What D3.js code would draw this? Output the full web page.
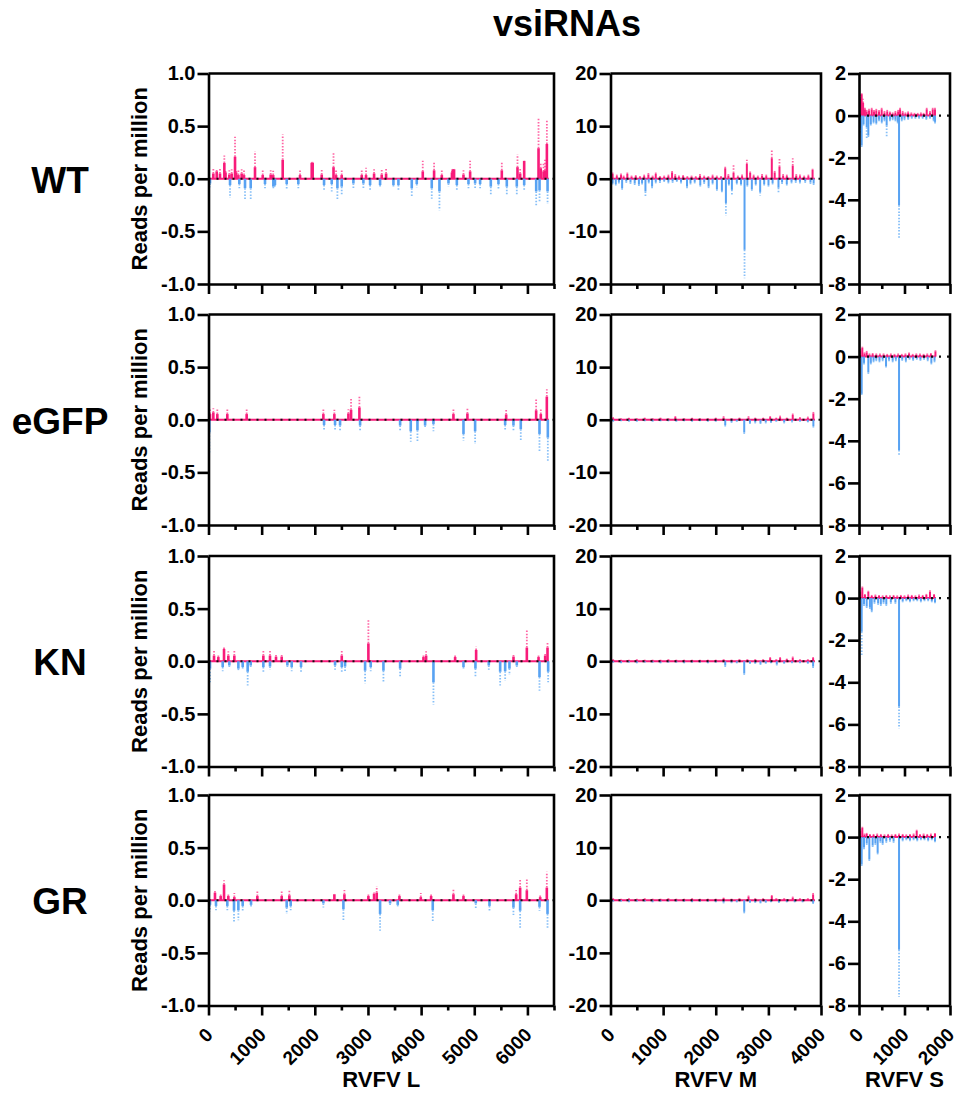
<!DOCTYPE html>
<html><head><meta charset="utf-8">
<script src="https://cdn.jsdelivr.net/npm/d3@7"></script>
<style>
body{margin:0;background:#fff}
svg{display:block}
text{font-family:"Liberation Sans",Arial,Helvetica,sans-serif;font-weight:bold;fill:#000}
</style>
</head><body>
<svg id="chart" width="957" height="1100"></svg>
<script>
// ---------------- DATA ----------------
const title = "vsiRNAs";
const rowNames = ["WT", "eGFP", "KN", "GR"];
const segNames = ["RVFV L", "RVFV M", "RVFV S"];
const segLength = [6404, 3885, 1690];
const xMax = [6500, 4000, 2000];
const xMajor = [[0,1000,2000,3000,4000,5000,6000],[0,1000,2000,3000,4000],[0,1000,2000]];
const xMinor = [[500,1500,2500,3500,4500,5500,6500],[500,1500,2500,3500],[500,1500]];
const yDomain = [[-1,1],[-20,20],[-8,2]];
const yTicks = [[1,0.5,0,-0.5,-1],[20,10,0,-10,-20],[2,0,-2,-4,-6,-8]];
const yTitle = "Reads per million";

// [position (nt), mean, SD]
const L_WT_pos = [[91,0.05,0.05],[154,0.07,0.03],[216,0.05,0.05],[298,0.15,0.07],[320,0.06,0.03],[392,0.04,0.04],[436,0.05,0.04],[499,0.21,0.19],[520,0.06,0.03],[562,0.035,0.05],[624,0.05,0.04],[668,0.035,0.05],[875,0.11,0.15],[1020,0.035,0.05],[1170,0.04,0.04],[1217,0.035,0.04],[1396,0.18,0.24],[1722,0.035,0.05],[1942,0.15,0.01],[1960,0.15,0.01],[2130,0.04,0.06],[2352,0.11,0.14],[2400,0.035,0.05],[2506,0.035,0.05],[2883,0.035,0.05],[2964,0.035,0.07],[3115,0.05,0.04],[3259,0.04,0.05],[3341,0.05,0.05],[4031,0.07,0.10],[4244,0.08,0.08],[4389,0.035,0.05],[4580,0.06,0.02],[4596,0.09,0.0],[4620,0.09,0.0],[4797,0.04,0.04],[4922,0.07,0.10],[5518,0.08,0.08],[5813,0.11,0.12],[5863,0.05,0.06],[5939,0.17,0.0],[6209,0.29,0.28],[6250,0.1,0.06],[6303,0.07,0.09],[6330,0.08,0.1],[6366,0.33,0.23]];
const L_WT_neg = [[28,-0.045,0.035],[405,-0.06,0.12],[580,-0.05,0.04],[687,-0.09,0.11],[794,-0.09,0.11],[1063,-0.05,0.04],[1220,-0.075,0.03],[1250,-0.06,0.03],[1471,-0.05,0.06],[1690,-0.05,0.04],[2174,-0.06,0.05],[2318,-0.05,0.07],[2425,-0.09,0.11],[2506,-0.075,0.08],[2726,-0.045,0.05],[2914,-0.045,0.05],[3040,-0.06,0.05],[3228,-0.06,0.03],[3479,-0.06,0.03],[3573,-0.06,0.05],[3824,-0.09,0.08],[3918,-0.05,0.03],[4200,-0.09,0.10],[4345,-0.12,0.18],[4515,-0.045,0.03],[4672,-0.06,0.05],[4891,-0.05,0.04],[5016,-0.045,0.05],[5110,-0.05,0.04],[5311,-0.075,0.09],[5455,-0.05,0.06],[5612,-0.075,0.08],[5800,-0.075,0.09],[5939,-0.06,0.05],[6165,-0.12,0.14],[6228,-0.11,0.11],[6379,-0.12,0.12]];

const L_eGFP_pos = [[28,0.054,0.053],[91,0.07,0.04],[166,0.054,0.053],[354,0.054,0.053],[718,0.054,0.05],[2161,0.054,0.05],[2368,0.054,0.04],[2632,0.06,0.04],[2682,0.095,0.115],[2839,0.117,0.11],[4608,0.054,0.053],[4871,0.06,0.047],[5600,0.05,0.057],[6164,0.09,0.11],[6252,0.054,0.05],[6365,0.22,0.07]];
const L_eGFP_neg = [[16,-0.12,0.19],[2174,-0.05,0.05],[2381,-0.05,0.05],[2475,-0.055,0.045],[2852,-0.055,0.045],[3605,-0.055,0.045],[3805,-0.11,0.10],[3931,-0.10,0.11],[4075,-0.055,0.03],[4232,-0.04,0.07],[4797,-0.135,0.065],[5016,-0.11,0.12],[5581,-0.05,0.05],[5737,-0.055,0.045],[5875,-0.09,0.11],[6227,-0.135,0.175],[6384,-0.17,0.23]];

const L_KN_pos = [[104,0.054,0.047],[185,0.04,0.03],[292,0.117,0.03],[373,0.054,0.04],[486,0.054,0.047],[1032,0.054,0.047],[1157,0.054,0.047],[1270,0.044,0.03],[1377,0.044,0.03],[2507,0.054,0.047],[3008,0.17,0.23],[4044,0.04,0.03],[4094,0.054,0.04],[4640,0.04,0.03],[5035,0.107,0.03],[5738,0.044,0.03],[5989,0.13,0.175],[6209,0.04,0.025],[6334,0.054,0.03],[6378,0.13,0.06]];
const L_KN_neg = [[28,-0.07,0.13],[267,-0.055,0.04],[392,-0.04,0.03],[562,-0.07,0.02],[643,-0.055,0.025],[737,-0.10,0.13],[794,-0.04,0.02],[1032,-0.055,0.045],[1157,-0.05,0.03],[1484,-0.04,0.03],[1565,-0.055,0.04],[1741,-0.055,0.055],[2381,-0.04,0.04],[2507,-0.055,0.045],[2569,-0.05,0.045],[2946,-0.09,0.12],[3052,-0.055,0.04],[3291,-0.09,0.11],[3605,-0.07,0.08],[4232,-0.2,0.21],[4797,-0.055,0.025],[5022,-0.07,0.08],[5273,-0.04,0.04],[5487,-0.10,0.13],[5581,-0.095,0.09],[5662,-0.07,0.06],[5800,-0.04,0.03],[6227,-0.15,0.13],[6390,-0.10,0.10]];

const L_GR_pos = [[122,0.073,0.022],[229,0.04,0.022],[292,0.15,0.04],[373,0.04,0.022],[486,0.03,0.04],[919,0.04,0.06],[1377,0.04,0.05],[1521,0.047,0.047],[2368,0.057,0.0],[2557,0.057,0.04],[3008,0.04,0.03],[3115,0.063,0.01],[3165,0.073,0.063],[3592,0.04,0.03],[3994,0.03,0.04],[4188,0.04,0.03],[4608,0.057,0.047],[4797,0.04,0.022],[5788,0.057,0.04],[5863,0.12,0.08],[5989,0.095,0.105],[6240,0.03,0.03],[6365,0.12,0.15]];
const L_GR_neg = [[28,-0.044,0.06],[141,-0.054,0.04],[354,-0.054,0.04],[480,-0.10,0.11],[562,-0.095,0.095],[643,-0.054,0.05],[800,-0.044,0.03],[1471,-0.07,0.06],[1546,-0.054,0.04],[2161,-0.03,0.04],[2538,-0.085,0.105],[3228,-0.13,0.16],[3416,-0.03,0.03],[3560,-0.044,0.02],[4219,-0.095,0.11],[5028,-0.03,0.045],[5286,-0.054,0.046],[5737,-0.07,0.07],[5863,-0.1,0.175],[6227,-0.063,0.037],[6378,-0.13,0.145]];

const M_WT_pos = [[40,0.9,0.3],[120,0.5,0.3],[200,0.7,0.3],[250,0.4,0.2],[320,0.9,0.3],[400,0.4,0.2],[480,0.5,0.2],[560,0.3,0.2],[640,0.5,0.3],[720,0.8,0.3],[800,0.4,0.2],[860,0.9,0.3],[940,0.3,0.2],[1020,0.4,0.2],[1100,0.5,0.3],[1170,1.2,0.4],[1230,0.6,0.3],[1300,0.4,0.2],[1380,0.5,0.2],[1460,0.3,0.2],[1540,0.4,0.2],[1620,0.3,0.2],[1700,0.6,0.3],[1780,0.4,0.2],[1860,0.3,0.2],[1940,0.5,0.3],[2020,0.4,0.2],[2100,0.3,0.2],[2180,2.0,0.3],[2240,0.6,0.3],[2338,1.1,1.7],[2420,0.4,0.2],[2500,0.5,0.3],[2591,2.8,0.8],[2654,1.1,0.4],[2720,0.5,0.3],[2800,0.4,0.2],[2880,0.6,0.3],[2960,0.5,0.3],[3065,3.9,1.7],[3120,1.2,0.5],[3211,2.3,1.6],[3280,0.6,0.3],[3350,0.5,0.3],[3463,2.5,1.4],[3530,0.6,0.3],[3600,0.5,0.3],[3680,0.4,0.2],[3760,0.5,0.3],[3840,1.7,0.2]];
const M_WT_neg = [[40,-0.8,0.4],[100,-1.0,0.5],[160,-0.6,0.3],[221,-1.8,0.4],[300,-0.5,0.3],[380,-0.7,0.3],[460,-0.9,0.4],[540,-1.1,0.5],[600,-0.8,0.4],[664,-2.4,0.95],[727,-0.6,0.3],[790,-1.5,0.5],[860,-0.6,0.3],[940,-0.5,0.3],[1020,-0.4,0.2],[1100,-0.6,0.3],[1180,-0.5,0.3],[1260,-0.4,0.2],[1340,-0.6,0.3],[1454,-1.5,0.5],[1520,-0.8,0.4],[1600,-0.6,0.3],[1706,-1.2,0.4],[1780,-0.7,0.3],[1864,-1.5,0.5],[1940,-0.8,0.4],[2022,-2.0,0.5],[2117,-2.3,0.6],[2193,-4.6,2.4],[2250,-1.0,0.5],[2307,-2.1,0.9],[2400,-0.8,0.4],[2480,-1.0,0.4],[2547,-13.5,5.4],[2600,-1.2,0.5],[2686,-2.0,0.6],[2760,-1.0,0.4],[2844,-2.5,0.7],[2920,-1.0,0.4],[3002,-1.2,0.5],[3080,-0.8,0.4],[3192,-1.7,1.0],[3260,-0.7,0.3],[3350,-1.0,0.4],[3440,-0.6,0.3],[3520,-0.5,0.3],[3600,-0.6,0.3],[3700,-0.5,0.3],[3800,-0.7,0.3],[3860,-0.9,0.3]];

const M_eGFP_pos = [[50,0.3,0.2],[200,0.2,0.1],[350,0.3,0.1],[500,0.2,0.1],[650,0.3,0.1],[800,0.2,0.1],[950,0.3,0.1],[1100,0.2,0.1],[1232,0.5,0.2],[1400,0.2,0.1],[1550,0.3,0.1],[1700,0.2,0.1],[1850,0.2,0.1],[2000,0.3,0.1],[2149,0.4,0.3],[2300,0.2,0.1],[2450,0.3,0.1],[2623,0.4,0.3],[2750,0.3,0.1],[2900,0.3,0.1],[3034,0.5,0.2],[3150,0.3,0.1],[3223,0.5,0.3],[3350,0.3,0.1],[3463,0.9,0.3],[3600,0.3,0.2],[3750,0.4,0.2],[3855,1.2,0.3]];
const M_eGFP_neg = [[50,-0.3,0.1],[200,-0.2,0.1],[350,-0.3,0.1],[500,-0.3,0.1],[650,-0.2,0.1],[800,-0.3,0.1],[950,-0.2,0.1],[1100,-0.2,0.1],[1250,-0.3,0.1],[1400,-0.2,0.1],[1550,-0.3,0.1],[1700,-0.2,0.1],[1850,-0.3,0.1],[2000,-0.3,0.1],[2180,-1.0,0.3],[2300,-0.4,0.2],[2400,-0.3,0.1],[2541,-2.4,0.3],[2650,-0.6,0.2],[2750,-0.5,0.2],[2850,-0.6,0.2],[2950,-0.5,0.2],[3050,-0.4,0.2],[3150,-0.3,0.1],[3300,-0.5,0.2],[3450,-0.3,0.2],[3600,-0.3,0.1],[3750,-0.4,0.1],[3855,-1.2,0.4]];

const M_KN_pos = [[50,0.3,0.1],[200,0.2,0.1],[350,0.2,0.1],[500,0.3,0.1],[650,0.2,0.1],[800,0.2,0.1],[950,0.2,0.1],[1100,0.3,0.1],[1250,0.2,0.1],[1400,0.2,0.1],[1550,0.2,0.1],[1700,0.2,0.1],[1850,0.2,0.1],[2000,0.2,0.1],[2150,0.3,0.1],[2300,0.2,0.1],[2450,0.3,0.1],[2600,0.3,0.1],[2750,0.3,0.1],[2900,0.3,0.1],[3034,0.6,0.2],[3150,0.3,0.1],[3223,0.6,0.2],[3350,0.4,0.1],[3463,0.7,0.2],[3600,0.3,0.1],[3750,0.3,0.1],[3850,0.6,0.2]];
const M_KN_neg = [[50,-0.2,0.1],[200,-0.3,0.1],[350,-0.2,0.1],[500,-0.3,0.1],[650,-0.2,0.1],[800,-0.2,0.1],[950,-0.3,0.1],[1100,-0.2,0.1],[1250,-0.2,0.1],[1400,-0.3,0.1],[1550,-0.2,0.1],[1700,-0.2,0.1],[1850,-0.3,0.1],[2000,-0.2,0.1],[2180,-0.8,0.3],[2300,-0.3,0.1],[2400,-0.3,0.1],[2541,-2.3,0.3],[2650,-0.4,0.1],[2750,-0.4,0.1],[2850,-0.5,0.2],[2950,-0.4,0.1],[3050,-0.3,0.1],[3160,-0.6,0.2],[3300,-0.4,0.1],[3450,-0.3,0.1],[3600,-0.3,0.1],[3750,-0.4,0.1],[3850,-1.0,0.3]];

const M_GR_pos = [[50,0.3,0.1],[200,0.2,0.1],[350,0.3,0.1],[500,0.2,0.1],[650,0.3,0.1],[800,0.2,0.1],[950,0.2,0.1],[1100,0.3,0.1],[1250,0.2,0.1],[1400,0.2,0.1],[1550,0.3,0.1],[1700,0.2,0.1],[1850,0.2,0.1],[2000,0.2,0.1],[2149,0.4,0.1],[2300,0.2,0.1],[2450,0.3,0.1],[2623,0.7,0.2],[2750,0.3,0.1],[2900,0.3,0.1],[3065,0.8,0.2],[3150,0.3,0.1],[3300,0.3,0.1],[3463,0.5,0.2],[3600,0.3,0.1],[3750,0.3,0.1],[3850,1.1,0.3]];
const M_GR_neg = [[50,-0.2,0.1],[200,-0.2,0.1],[350,-0.3,0.1],[500,-0.2,0.1],[650,-0.2,0.1],[800,-0.3,0.1],[950,-0.2,0.1],[1100,-0.2,0.1],[1250,-0.2,0.1],[1400,-0.2,0.1],[1550,-0.3,0.1],[1700,-0.2,0.1],[1850,-0.2,0.1],[2000,-0.3,0.1],[2149,-0.4,0.2],[2300,-0.3,0.1],[2400,-0.3,0.1],[2541,-2.2,0.3],[2650,-0.4,0.1],[2750,-0.4,0.1],[2850,-0.5,0.1],[2950,-0.4,0.1],[3050,-0.3,0.1],[3200,-0.4,0.1],[3350,-0.3,0.1],[3500,-0.3,0.1],[3650,-0.3,0.1],[3850,-0.5,0.2]];

const S_WT_pos = [[25,0.8,0.2],[59,1.02,0.04],[90,0.6,0.2],[130,0.3,0.1],[169,0.2,0.1],[220,0.25,0.1],[279,0.3,0.1],[330,0.2,0.1],[380,0.25,0.1],[440,0.2,0.1],[498,0.3,0.1],[560,0.15,0.1],[620,0.2,0.1],[680,0.15,0.05],[740,0.1,0.05],[800,0.15,0.1],[860,0.2,0.1],[902,0.3,0.1],[960,0.15,0.1],[1020,0.1,0.05],[1080,0.15,0.05],[1150,0.1,0.05],[1220,0.08,0.05],[1290,0.08,0.05],[1360,0.1,0.05],[1420,0.08,0.05],[1488,0.3,0.1],[1560,0.15,0.1],[1620,0.3,0.1],[1670,0.3,0.1]];
const S_WT_neg = [[30,-0.6,0.2],[59,-1.42,0.1],[100,-0.4,0.1],[169,-0.55,0.55],[205,-0.95,0.1],[260,-0.4,0.1],[320,-0.3,0.1],[380,-0.35,0.1],[440,-0.2,0.1],[500,-0.3,0.1],[560,-0.2,0.1],[608,-0.47,0.53],[680,-0.2,0.1],[740,-0.15,0.1],[800,-0.2,0.1],[850,-0.3,0.1],[880,-4.26,1.58],[940,-0.2,0.1],[1000,-0.15,0.1],[1080,-0.15,0.05],[1160,-0.1,0.05],[1240,-0.1,0.05],[1320,-0.1,0.05],[1400,-0.1,0.05],[1480,-0.15,0.05],[1560,-0.1,0.05],[1640,-0.2,0.1],[1671,-0.3,0.1]];

const S_eGFP_pos = [[30,0.3,0.1],[73,0.42,0.05],[120,0.15,0.05],[169,0.2,0.1],[230,0.1,0.05],[300,0.12,0.05],[380,0.1,0.05],[460,0.1,0.05],[540,0.1,0.05],[620,0.08,0.05],[700,0.1,0.05],[780,0.08,0.05],[860,0.1,0.05],[940,0.08,0.05],[1020,0.1,0.05],[1100,0.15,0.05],[1180,0.08,0.05],[1260,0.1,0.05],[1340,0.1,0.05],[1420,0.08,0.05],[1500,0.1,0.05],[1580,0.12,0.05],[1680,0.25,0.05]];
const S_eGFP_neg = [[59,-1.77,0.05],[110,-0.3,0.1],[205,-0.75,0.1],[260,-0.3,0.1],[320,-0.2,0.1],[380,-0.15,0.1],[450,-0.2,0.1],[520,-0.15,0.1],[594,-0.45,0.1],[660,-0.15,0.1],[740,-0.2,0.1],[810,-0.15,0.1],[880,-4.44,0.23],[950,-0.15,0.05],[1030,-0.2,0.1],[1110,-0.1,0.05],[1190,-0.15,0.05],[1270,-0.1,0.05],[1350,-0.15,0.05],[1430,-0.1,0.05],[1510,-0.15,0.1],[1590,-0.3,0.1],[1660,-0.2,0.1]];

const S_KN_pos = [[30,0.3,0.1],[73,0.5,0.05],[130,0.15,0.05],[205,0.3,0.05],[280,0.1,0.05],[360,0.12,0.05],[440,0.1,0.05],[520,0.08,0.05],[600,0.1,0.05],[680,0.08,0.05],[760,0.1,0.05],[840,0.08,0.05],[920,0.1,0.05],[1000,0.08,0.05],[1080,0.12,0.05],[1160,0.1,0.05],[1240,0.08,0.05],[1320,0.12,0.05],[1400,0.1,0.05],[1480,0.15,0.05],[1560,0.3,0.1],[1650,0.15,0.05]];
const S_KN_neg = [[59,-1.6,1.16],[110,-0.3,0.1],[169,-0.4,0.1],[240,-0.45,0.1],[280,-0.6,0.1],[340,-0.2,0.1],[420,-0.25,0.1],[480,-0.3,0.1],[540,-0.2,0.1],[600,-0.3,0.1],[700,-0.2,0.1],[800,-0.2,0.1],[880,-5.15,1.05],[960,-0.15,0.05],[1040,-0.1,0.05],[1120,-0.15,0.05],[1200,-0.1,0.05],[1280,-0.1,0.05],[1360,-0.15,0.05],[1440,-0.1,0.05],[1520,-0.1,0.05],[1600,-0.15,0.05],[1670,-0.2,0.05]];

const S_GR_pos = [[30,0.3,0.1],[73,0.44,0.05],[120,0.12,0.05],[169,0.15,0.05],[240,0.1,0.05],[320,0.1,0.05],[400,0.12,0.05],[480,0.1,0.05],[560,0.08,0.05],[640,0.1,0.05],[720,0.08,0.05],[800,0.1,0.05],[880,0.12,0.05],[960,0.1,0.05],[1040,0.08,0.05],[1120,0.1,0.05],[1200,0.12,0.05],[1268,0.3,0.05],[1340,0.1,0.05],[1420,0.12,0.05],[1500,0.1,0.05],[1580,0.12,0.05],[1670,0.15,0.05]];
const S_GR_neg = [[59,-1.3,0.1],[110,-0.5,0.1],[170,-0.3,0.1],[227,-1.06,0.1],[300,-0.4,0.1],[360,-0.3,0.1],[410,-0.75,0.1],[470,-0.2,0.1],[520,-0.3,0.1],[600,-0.2,0.1],[680,-0.15,0.1],[760,-0.2,0.1],[880,-5.35,2.25],[960,-0.15,0.05],[1040,-0.1,0.05],[1120,-0.15,0.05],[1200,-0.1,0.05],[1280,-0.15,0.05],[1360,-0.1,0.05],[1440,-0.1,0.05],[1520,-0.15,0.05],[1600,-0.1,0.05],[1670,-0.2,0.05]];

const panelData = [
  [[L_WT_pos, L_WT_neg], [M_WT_pos, M_WT_neg], [S_WT_pos, S_WT_neg]],
  [[L_eGFP_pos, L_eGFP_neg], [M_eGFP_pos, M_eGFP_neg], [S_eGFP_pos, S_eGFP_neg]],
  [[L_KN_pos, L_KN_neg], [M_KN_pos, M_KN_neg], [S_KN_pos, S_KN_neg]],
  [[L_GR_pos, L_GR_neg], [M_GR_pos, M_GR_neg], [S_GR_pos, S_GR_neg]]
];

// ---------------- LAYOUT / STYLE ----------------
const colX = [[208.5, 554], [610.5, 821], [859, 950]];
const rowTop = [73.5, 314.5, 556, 795];
const rowH = 210.5;
const PINK = "#f81b7a", PINK_ERR = "#ff64a4";
const BLUE = "#58a2f2", BLUE_ERR = "#86bff7";
const AXW = 2.6;

const svg = d3.select("#chart");

svg.append("text").attr("x", 567).attr("y", 36).attr("text-anchor", "middle")
  .style("font-size", "36px").text(title);

function fmtTick(c) {
  return c === 0 ? (d => d.toFixed(1)) : (d => String(d));
}

rowNames.forEach((rn, r) => {
  const top = rowTop[r], bot = top + rowH;
  // row label
  svg.append("text").attr("x", 60).attr("y", top + rowH / 2 + 14)
    .attr("text-anchor", "middle").style("font-size", "37px").text(rn);
  // y title
  svg.append("text")
    .attr("transform", `translate(147,${top + rowH / 2}) rotate(-90)`)
    .attr("text-anchor", "middle").style("font-size", "22px").text(yTitle);

  segNames.forEach((sn, c) => {
    const x = d3.scaleLinear().domain([0, xMax[c]]).range(colX[c]);
    const y = d3.scaleLinear().domain(yDomain[c]).range([bot, top]);
    const g = svg.append("g");
    const [pos, neg] = panelData[r][c];
    const bw = c === 0 ? 2.6 : 2.0;

    // pink zero line along the segment
    g.append("line").attr("x1", x(0)).attr("x2", x(segLength[c]))
      .attr("y1", y(0)).attr("y2", y(0)).attr("stroke", PINK).attr("stroke-width", 2);

    // error bars (dotted)
    g.selectAll(".ep").data(pos).join("line")
      .attr("x1", d => x(d[0])).attr("x2", d => x(d[0]))
      .attr("y1", d => y(d[1])).attr("y2", d => y(d[1] + d[2]))
      .attr("stroke", PINK_ERR).attr("stroke-width", 1.8).attr("stroke-dasharray", "1.5,1.6");
    g.selectAll(".en").data(neg).join("line")
      .attr("x1", d => x(d[0])).attr("x2", d => x(d[0]))
      .attr("y1", d => y(d[1])).attr("y2", d => y(d[1] - d[2]))
      .attr("stroke", BLUE_ERR).attr("stroke-width", 1.8).attr("stroke-dasharray", "1.5,1.6");

    // bars
    g.selectAll(".bp").data(pos).join("rect")
      .attr("x", d => x(d[0]) - bw / 2).attr("width", bw)
      .attr("y", d => y(d[1])).attr("height", d => y(0) - y(d[1]))
      .attr("fill", PINK);
    g.selectAll(".bn").data(neg).join("rect")
      .attr("x", d => x(d[0]) - bw / 2).attr("width", bw)
      .attr("y", y(0)).attr("height", d => y(d[1]) - y(0))
      .attr("fill", BLUE);

    // black dotted zero line
    g.append("line").attr("x1", x(0)).attr("x2", x(xMax[c]))
      .attr("y1", y(0)).attr("y2", y(0)).attr("stroke", "#111")
      .attr("stroke-width", 2.2).attr("stroke-dasharray", "2,6");

    // box top + right
    g.append("path").attr("d", `M${x(0)},${top}H${x(xMax[c])}V${bot}`)
      .attr("fill", "none").attr("stroke", "#000").attr("stroke-width", AXW);

    // y axis
    const ya = g.append("g").attr("transform", `translate(${x(0)},0)`)
      .call(d3.axisLeft(y).tickValues(yTicks[c]).tickSize(11).tickSizeOuter(0)
        .tickPadding(2).tickFormat(fmtTick(c)));
    ya.select(".domain").attr("stroke-width", AXW);
    ya.selectAll(".tick line").attr("stroke-width", AXW);
    ya.selectAll("text").style("font-size", "20px").style("font-family", null);

    // x axis major
    const xa = g.append("g").attr("transform", `translate(0,${bot})`)
      .call(d3.axisBottom(x).tickValues(xMajor[c]).tickSize(10).tickSizeOuter(0).tickFormat(""));
    xa.select(".domain").attr("stroke-width", AXW);
    xa.selectAll(".tick line").attr("stroke-width", AXW);
    // x axis minor
    const xm = g.append("g").attr("transform", `translate(0,${bot})`)
      .call(d3.axisBottom(x).tickValues(xMinor[c]).tickSize(5).tickSizeOuter(0).tickFormat(""));
    xm.select(".domain").remove();
    xm.selectAll(".tick line").attr("stroke-width", AXW);

    if (r === rowNames.length - 1) {
      g.selectAll(".xl").data(xMajor[c]).join("text")
        .attr("transform", d => `translate(${x(d) + 1},${bot + 26}) rotate(-45)`)
        .attr("text-anchor", "end").attr("dominant-baseline", "central")
        .style("font-size", "19px").text(d => String(d));
      svg.append("text").attr("x", (colX[c][0] + colX[c][1]) / 2).attr("y", 1087)
        .attr("text-anchor", "middle").style("font-size", "22px").text(sn);
    }
  });
});
svg.selectAll(".tick text").style("font-weight", "bold").attr("fill", "#000");
</script>
</body></html>
